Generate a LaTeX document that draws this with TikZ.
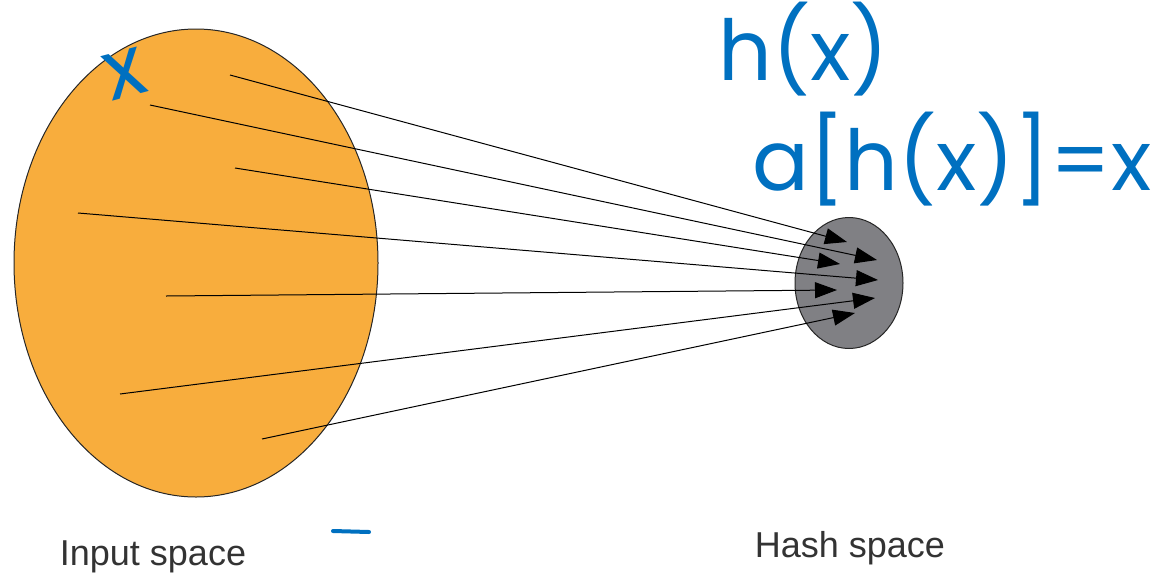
\documentclass[tikz,border=0pt]{standalone}
\usepackage{fontspec}
\setmainfont{Liberation Sans}
\newfontfamily\handfont{Poppins}
\usepackage{xcolor}
\usetikzlibrary{arrows.meta,shapes.geometric}

\definecolor{inorange}{RGB}{248,173,61}
\definecolor{hashgray}{RGB}{128,128,132}
\definecolor{inkblue}{RGB}{0,112,192}
\definecolor{labelgray}{RGB}{51,51,51}

\begin{document}
\begin{tikzpicture}[
  x=0.5pt,y=-0.5pt,
  space/.style={ellipse,draw=black!85,line width=0.5pt,inner sep=0pt},
  arr/.style={-{Triangle[length=11pt,width=8pt]},line width=0.5pt},
  lbl/.style={text=labelgray,font=\fontsize{18}{20}\selectfont,inner sep=0pt,anchor=base},
  ink/.style={text=inkblue,font=\handfont\fontsize{42}{44}\selectfont,inner sep=0pt,anchor=base west}
]
\useasboundingbox (0,0) rectangle (1173,574);

\node[space,fill=inorange,minimum width=182pt,minimum height=234pt] (input) at (196,263) {};
\node[space,fill=hashgray,minimum width=54pt,minimum height=65.5pt] (hash) at (849,283) {};

% start points in the input space, end points in the hash space
\coordinate (s1) at (230,75);
\coordinate (s2) at (150,105);
\coordinate (s3) at (235,168);
\coordinate (s4) at (78,213);
\coordinate (s5) at (166,296);
\coordinate (s6) at (120,394);
\coordinate (s7) at (262,439);
\coordinate (t1) at (847,242);
\coordinate (t2) at (877,260);
\coordinate (t3) at (840,264);
\coordinate (t4) at (878,280);
\coordinate (t5) at (837,290);
\coordinate (t6) at (875,298);
\coordinate (t7) at (855,313);

\draw[arr] (s1) -- (t1);
\draw[arr] (s2) -- (t2);
\draw[arr] (s3) -- (t3);
\draw[arr] (s4) -- (t4);
\draw[arr] (s5) -- (t5);
\draw[arr] (s6) -- (t6);
\draw[arr] (s7) -- (t7);

\node[lbl] (inlabel) at (153,565) {Input space};
\node[lbl] (hashlabel) at (850,557) {Hash space};

% handwritten notes
\node[ink] (hx) at (718,80) {h(x)};
\node[ink] (ahx) at (752,190) {a[h(x)]=x};
\node[ink,anchor=center,rotate=15] (xin) at (125,74) {x};
\draw[inkblue,line width=2pt,line cap=round] (333,531) -- (369,532);
\end{tikzpicture}
\end{document}
